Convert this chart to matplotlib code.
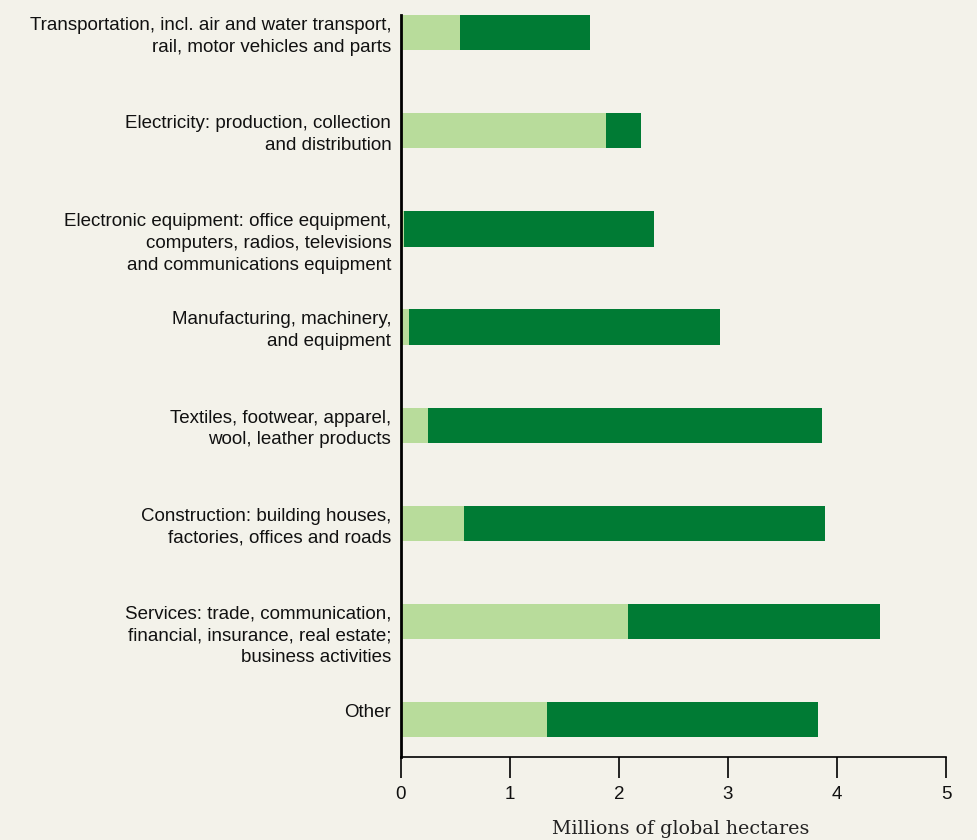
import matplotlib.pyplot as plt
import numpy as np

categories = [
    "Transportation, incl. air and water transport,\nrail, motor vehicles and parts",
    "Electricity: production, collection\nand distribution",
    "Electronic equipment: office equipment,\ncomputers, radios, televisions\nand communications equipment",
    "Manufacturing, machinery,\nand equipment",
    "Textiles, footwear, apparel,\nwool, leather products",
    "Construction: building houses,\nfactories, offices and roads",
    "Services: trade, communication,\nfinancial, insurance, real estate;\nbusiness activities",
    "Other",
]
light_part = [0.54, 1.88, 0.03, 0.07, 0.25, 0.58, 2.08, 1.34]
total = [1.73, 2.20, 2.32, 2.93, 3.86, 3.89, 4.39, 3.83]
dark_part = [t - l for t, l in zip(total, light_part)]
xticks = [0, 1, 2, 3, 4, 5]

bg = "#f3f2ea"
light_col = "#b8dc9b"
dark_col = "#007b34"

fig = plt.figure(figsize=(9.78, 8.4), dpi=100, facecolor=bg)
ax = fig.add_axes([401 / 978, 1 - 757 / 840, 545 / 978, (757 - 15) / 840])
ax.set_facecolor(bg)

y = np.arange(len(categories))
h = 0.36
ax.barh(y, light_part, height=h, color=light_col)
ax.barh(y, dark_part, left=light_part, height=h, color=dark_col)

ax.set_xlim(0, 5)
ax.set_ylim(len(categories) - 1 + 0.38, -h / 2)

for s in ["top", "right"]:
    ax.spines[s].set_visible(False)
ax.spines["left"].set_linewidth(2)
ax.spines["bottom"].set_linewidth(1.2)

ax.set_xticks(xticks)
ax.set_xticklabels([str(t) for t in xticks], fontsize=13.5,
                   family="Liberation Sans", color="#111111")
ax.tick_params(axis="x", length=15, width=1.2, pad=6)

# labels hang from the top edge of each bar
ax.set_yticks(y - h / 2 + 0.02)
ax.set_yticklabels(categories, fontsize=13.5, family="Liberation Sans",
                   va="top", linespacing=1.36, color="#111111")
ax.tick_params(axis="y", length=0, pad=7)

ax.set_xlabel("Millions of global hectares", fontsize=13.7, family="DejaVu Serif",
              color="#222222")
ax.xaxis.set_label_coords(0.514, -0.085)

fig.savefig("out.png", dpi=100, facecolor=bg)
